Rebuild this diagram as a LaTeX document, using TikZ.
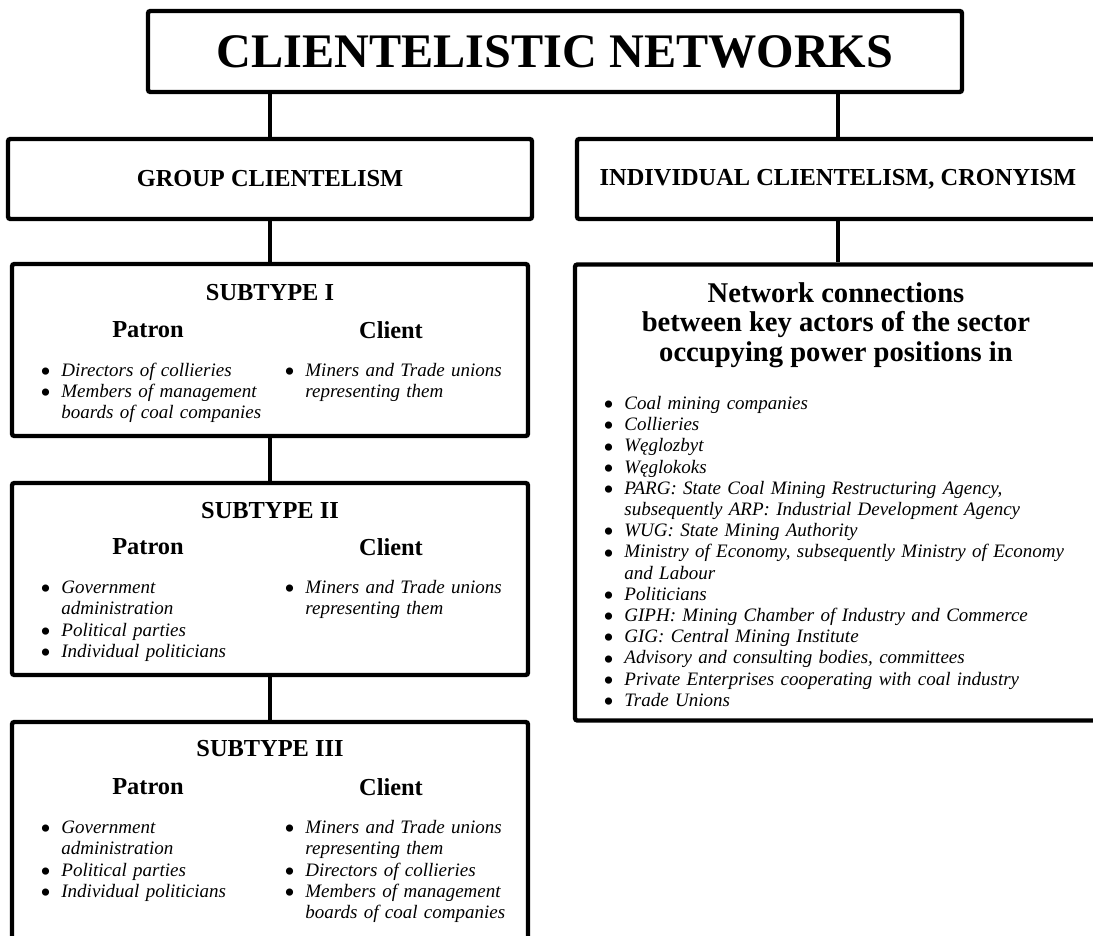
\documentclass[tikz,border=0pt]{standalone}
\usepackage{fontspec}
\setmainfont{Liberation Serif}
\usepackage{tikz}

\newcommand{\titlefont}{\fontsize{24.1}{28}\selectfont\bfseries}
\newcommand{\headfont}{\fontsize{12.2}{14}\selectfont\bfseries}
\newcommand{\nettitlefont}{\fontsize{14.3}{14.75}\selectfont\bfseries}
\newcommand{\bodyfont}{\fontsize{9.5}{10.6}\selectfont\itshape}
\newcommand{\itm}{\par\hangindent=10.5pt\hangafter=1\noindent\makebox[10.5pt][l]{\upshape\raisebox{-2.6pt}{\fontsize{15}{0}\selectfont\textbullet}}\strut}

\tikzset{
  box/.style={draw, line width=2.2pt, rounded corners=1.2pt, inner sep=0pt},
  lst/.style={anchor=north west, inner sep=0pt, text width=#1, font=\bodyfont,
    execute at begin node={\raggedright\hyphenpenalty=10000\exhyphenpenalty=10000}},
  link/.style={line width=2.2pt},
}

\begin{document}
\begin{tikzpicture}[x=0.5pt, y=-0.5pt]
                \useasboundingbox (0, 0) rectangle (1093, 936);
                \clip (0, 0) rectangle (1093, 936);
                \node[box, minimum width=407pt, minimum height=40.5pt, font=\titlefont] (title) at (555, 51.5) {CLIENTELISTIC NETWORKS};
                \node[box, minimum width=262pt, minimum height=40pt, font=\headfont] (grp) at (270, 179) {GROUP CLIENTELISM};
                \node[box, minimum width=261pt, minimum height=40pt, font=\headfont] (ind) at (838, 179) {INDIVIDUAL CLIENTELISM, CRONYISM};
                \node[box, minimum width=258pt, minimum height=86pt] (sub1) at (270, 350) {};
                \node[box, minimum width=258pt, minimum height=96pt] (sub2) at (270, 579) {};
                \node[box, minimum width=258pt, minimum height=114pt] (sub3) at (270, 836) {};
                \node[box, minimum width=263pt, minimum height=228pt] (net) at (838, 492.5) {};
                \node[font=\headfont] (sub1h) at (270, 293) {SUBTYPE I};
                \node[font=\headfont] (sub1p) at (148, 330) {Patron};
                \node[font=\headfont] (sub1c) at (391, 330) {Client};
                \node[lst=112.5pt] (sub1pl) at (40, 355) {\itm Directors of collieries \itm Members of management boards of coal companies\par};
                \node[lst=115pt] (sub1cl) at (284, 355) {\itm Miners and Trade unions representing them\par};
                \node[font=\headfont] (sub2h) at (270, 511) {SUBTYPE II};
                \node[font=\headfont] (sub2p) at (148, 547) {Patron};
                \node[font=\headfont] (sub2c) at (391, 547) {Client};
                \node[lst=112.5pt] (sub2pl) at (40, 572) {\itm Government administration \itm Political parties \itm Individual politicians\par};
                \node[lst=115pt] (sub2cl) at (284, 572) {\itm Miners and Trade unions representing them\par};
                \node[font=\headfont] (sub3h) at (270, 749) {SUBTYPE III};
                \node[font=\headfont] (sub3p) at (148, 787) {Patron};
                \node[font=\headfont] (sub3c) at (391, 787) {Client};
                \node[lst=112.5pt] (sub3pl) at (40, 812) {\itm Government administration \itm Political parties \itm Individual politicians\par};
                \node[lst=115pt] (sub3cl) at (284, 812) {\itm Miners and Trade unions representing them \itm Directors of collieries \itm Members of management boards of coal companies\par};
                \node[font=\nettitlefont, align=center] (nett) at (836, 325) {Network connections\\ between key actors of the sector\\ occupying power positions in};
                \node[lst=236pt] (netl) at (603, 388) {\itm Coal mining companies \itm Collieries \itm Węglozbyt \itm Węglokoks \itm PARG: State Coal Mining Restructuring Agency, subsequently ARP: Industrial Development Agency \itm WUG: State Mining Authority \itm Ministry of Economy, subsequently Ministry of Economy and Labour \itm Politicians \itm GIPH: Mining Chamber of Industry and Commerce \itm GIG: Central Mining Institute \itm Advisory and consulting bodies, committees \itm Private Enterprises cooperating with coal industry \itm Trade Unions\par};
                \draw[link]
                (grp.north |- title.south) edge[] (grp.north)
                (ind.north |- title.south) edge[] (ind.north)
                (grp.south) edge[] (sub1.north)
                (sub1.south) edge[] (sub2.north)
                (sub2.south) edge[] (sub3.north)
                (ind.south) edge[] (net.north);
            \end{tikzpicture}
\end{document}
